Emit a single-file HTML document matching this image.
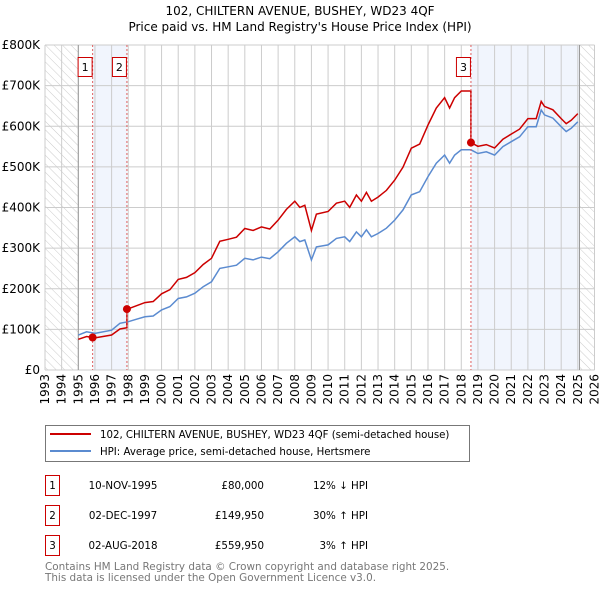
<!DOCTYPE html>
<html><head><meta charset="utf-8"><style>
body{margin:0;background:#fff;width:600px;height:590px;overflow:hidden}
svg text{font-family:"DejaVu Sans","Liberation Sans",sans-serif}
</style></head><body>
<svg id="c" width="600" height="590" viewBox="0 0 600 590">
<defs><pattern id="hatch" width="6" height="6" patternUnits="userSpaceOnUse" patternTransform="rotate(-45)"><line x1="0" y1="0" x2="0" y2="6" stroke="#ccc" stroke-width="1"/></pattern></defs>
<text x="300" y="15" text-anchor="middle" font-size="12">102, CHILTERN AVENUE, BUSHEY, WD23 4QF</text>
<text x="300" y="31" text-anchor="middle" font-size="12">Price paid vs. HM Land Registry's House Price Index (HPI)</text>
<g id="plot"></g>
<g>
<rect x="45.5" y="425.5" width="424" height="36" fill="#fff" stroke="#777"/>
<line x1="50" y1="434" x2="91" y2="434" stroke="#cc0000" stroke-width="2"/>
<text x="100" y="438" font-size="10.2">102, CHILTERN AVENUE, BUSHEY, WD23 4QF (semi-detached house)</text>
<line x1="50" y1="451" x2="91" y2="451" stroke="#5b8bd0" stroke-width="2"/>
<text x="100" y="455" font-size="10.2">HPI: Average price, semi-detached house, Hertsmere</text>
</g>
<g id="table" font-size="10.3"></g>
<text x="45" y="570" font-size="10.4" fill="#777">Contains HM Land Registry data © Crown copyright and database right 2025.</text>
<text x="45" y="581" font-size="10.4" fill="#777">This data is licensed under the Open Government Licence v3.0.</text>
</svg>
<script>
const hpiYears=[1995,1995.5,1996,1997,1997.5,1998,1998.5,1999,1999.5,2000,2000.5,2001,2001.5,2002,2002.5,2003,2003.5,2004,2004.5,2005,2005.5,2006,2006.5,2007,2007.5,2008,2008.3,2008.6,2009,2009.3,2010,2010.5,2011,2011.3,2011.7,2012,2012.3,2012.6,2013,2013.5,2014,2014.5,2015,2015.5,2016,2016.5,2017,2017.3,2017.6,2018,2018.58,2019,2019.5,2020,2020.5,2021,2021.5,2022,2022.5,2022.8,2023,2023.5,2024,2024.3,2024.6,2025];
const hpiValues=[86,94,90,98,115,119,125,131,133,148,156,176,180,189,205,217,250,254,258,275,271,278,274,291,312,328,316,320,271,303,308,324,328,316,340,328,345,328,336,349,369,394,431,439,476,509,529,509,529,542,542,533,537,529,550,562,574,599,599,640,628,620,599,587,595,611];
const saleYears=[1995.86,1997.92,2018.58];
const salePrices=[80000,149950,559950];
const saleLabels=["1","2","3"];
const saleDates=["10-NOV-1995","02-DEC-1997","02-AUG-2018"];
const salePriceText=["£80,000","£149,950","£559,950"];
const saleDiffText=["12% ↓ HPI","30% ↑ HPI","3% ↑ HPI"];
const yTicks=[0,100,200,300,400,500,600,700,800];
const yTickLabels=["£0","£100K","£200K","£300K","£400K","£500K","£600K","£700K","£800K"];
const xTicks=[1993,1994,1995,1996,1997,1998,1999,2000,2001,2002,2003,2004,2005,2006,2007,2008,2009,2010,2011,2012,2013,2014,2015,2016,2017,2018,2019,2020,2021,2022,2023,2024,2025,2026];
const dataStart=1995, dataEnd=2025.1;

const L=45,R=594.5,T=45,B=370;
const x=v=>L+(v-1993)/(2026-1993)*(R-L);
const y=v=>B-v/800*(B-T);
const NS="http://www.w3.org/2000/svg";
const plot=document.getElementById('plot');
function mk(tag,attrs,parent){const e=document.createElementNS(NS,tag);for(const k in attrs)e.setAttribute(k,attrs[k]);(parent||plot).appendChild(e);return e;}
function hpiAt(t){for(let i=0;i<hpiYears.length-1;i++){if(t<=hpiYears[i+1]){const f=(t-hpiYears[i])/(hpiYears[i+1]-hpiYears[i]);return hpiValues[i]+f*(hpiValues[i+1]-hpiValues[i]);}}return hpiValues[hpiValues.length-1];}

let r=mk('rect',{x:L,y:T,width:x(dataStart)-L,height:B-T,fill:'url(#hatch)'});


r=mk('rect',{x:x(dataEnd),y:T,width:R-x(dataEnd),height:B-T,fill:'url(#hatch)'});


r=mk('rect',{x:x(saleYears[0]),y:T,width:x(saleYears[1])-x(saleYears[0]),height:B-T,fill:'#eef3fc',opacity:0.8});


r=mk('rect',{x:x(saleYears[2]),y:T,width:x(dataEnd)-x(saleYears[2]),height:B-T,fill:'#eef3fc',opacity:0.8});



yTicks.forEach((v,i)=>{
 const g=mk('line',{x1:L,x2:R,y1:y(v),y2:y(v),stroke:'#ccc','stroke-width':1});
 
 
 const t=mk('text',{x:40,y:y(v)+4,'text-anchor':'end','font-size':12});
 t.textContent=yTickLabels[i];
 
 
});
xTicks.forEach(v=>{
 const g=mk('line',{x1:x(v),x2:x(v),y1:T,y2:B,stroke:'#ccc','stroke-width':1});
 
 
 const t=mk('text',{x:0,y:0,'text-anchor':'end','font-size':12,transform:`translate(${x(v)+4},${B+4}) rotate(-90)`});
 t.textContent=v;
 
 
});
let ln=mk('line',{x1:x(dataStart),x2:x(dataStart),y1:T,y2:B,stroke:'#999'});


ln=mk('line',{x1:x(dataEnd),x2:x(dataEnd),y1:T,y2:B,stroke:'#999'});



const hp=mk('path',{d:hpiYears.map((t,i)=>(i?'L':'M')+x(t).toFixed(1)+','+y(hpiValues[i]).toFixed(1)).join(''),fill:'none',stroke:'#5b8bd0','stroke-width':1.5});


let d='';
hpiYears.forEach((t,i)=>{
 let k=0;for(let j=0;j<saleYears.length;j++)if(t>=saleYears[j])k=j;
 d+=(d?'L':'M')+x(t).toFixed(1)+','+y(hpiValues[i]*salePrices[k]/1000/hpiAt(saleYears[k])).toFixed(1);
 if(i<hpiYears.length-1){saleYears.forEach((s,j)=>{if(j>0&&s>t&&s<=hpiYears[i+1]){
   d+='L'+x(s).toFixed(1)+','+y(hpiAt(s)*salePrices[j-1]/1000/hpiAt(saleYears[j-1])).toFixed(1);
   d+='L'+x(s).toFixed(1)+','+y(salePrices[j]/1000).toFixed(1);}});}
});
const pp=mk('path',{d,fill:'none',stroke:'#cc0000','stroke-width':1.5});



saleYears.forEach((s,j)=>{
 const vl=mk('line',{x1:x(s),x2:x(s),y1:T,y2:B,stroke:'#e06060','stroke-dasharray':'2,2','stroke-width':1});
 
 
 const c=mk('circle',{cx:x(s),cy:y(salePrices[j]/1000),r:4,fill:'#cc0000'});
 
 
 const b=mk('rect',{x:x(s)-14.5,y:57.5,width:14,height:19,fill:'#fff',stroke:'#cc0000'});
 
 
 const t=mk('text',{x:x(s)-7.5,y:71,'text-anchor':'middle','font-size':11});
 t.textContent=saleLabels[j];
 
 
});

const tb=document.getElementById('table');
saleYears.forEach((s,j)=>{
 const yy=475+j*30;
 const b=mk('rect',{x:45.5,y:yy+0.5,width:14,height:20,fill:'#fff',stroke:'#cc0000'},tb);
 
 
 const cells=[[52.5,'middle',saleLabels[j],'table-number'],[123,'middle',saleDates[j],'table-date'],[264,'end',salePriceText[j],'table-price'],[368,'end',saleDiffText[j],'table-hpi-diff']];
 cells.forEach(cl=>{
  const t=mk('text',{x:cl[0],y:yy+14,'text-anchor':cl[1]},tb);
  t.textContent=cl[2];
  
  
 });
});
</script>
</body></html>
